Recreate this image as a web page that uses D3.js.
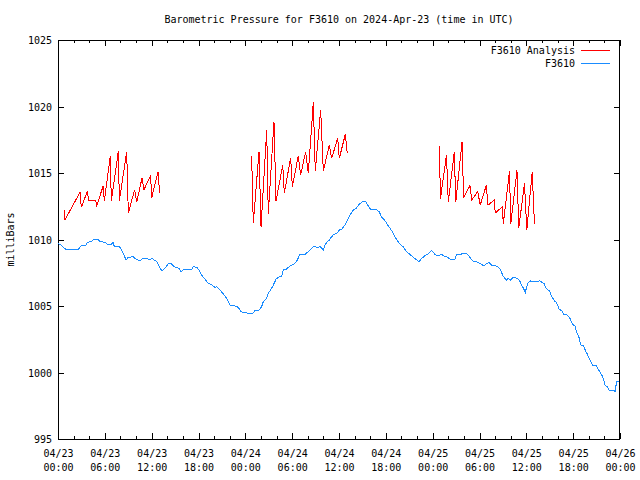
<!DOCTYPE html>
<html><head><meta charset="utf-8">
<script src="https://cdn.jsdelivr.net/npm/d3@7"></script>
<style>
html,body{margin:0;padding:0;background:#fff;}
svg text{font-family:"DejaVu Sans Mono",monospace;font-size:10px;fill:#000;}
</style></head>
<body>
<svg id="chart" width="640" height="480"></svg>
<script>
// ---- data (hours since 2024-04-23 00:00 UTC, pressure in mb) ----
const obsHours = [0,0.26,0.55,0.98,2.60,2.95,3.54,3.76,4.31,4.53,5.08,5.38,6.02,6.32,6.88,7.05,7.22,7.86,8.16,8.37,8.71,9.01,9.65,9.86,10.50,10.80,11.36,11.70,12.00,12.34,12.64,12.94,13.28,13.49,14.13,14.56,14.90,15.50,15.76,16.06,17.12,17.34,17.77,18.06,18.41,18.83,19.26,19.69,20.11,20.33,20.75,21.18,21.61,22.03,22.68,23.10,23.44,23.74,24.60,24.94,25.24,25.79,26.09,26.30,26.73,26.94,27.37,27.59,27.93,28.23,28.65,28.87,29.29,29.51,29.93,30.27,30.66,31.00,31.64,32.07,32.71,33.35,33.56,33.78,33.99,34.20,34.50,34.76,35.06,35.27,35.70,36.04,36.34,36.77,37.07,37.41,37.83,38.18,38.60,39.03,39.41,39.67,40.06,40.82,41.16,41.46,41.89,42.32,42.75,43.17,43.47,43.90,44.24,44.54,45.01,45.52,45.95,46.25,46.59,47.02,47.31,47.87,48.30,48.72,48.94,49.15,49.45,49.79,50.22,50.43,50.86,51.07,51.71,52.01,52.44,52.78,53.21,53.63,54.06,54.57,54.92,55.26,55.56,56.11,56.41,56.71,56.96,57.14,57.48,57.69,57.99,58.33,58.84,59.10,59.40,59.74,59.87,60.04,60.25,60.55,61.11,61.41,61.66,62.09,62.26,62.52,62.94,63.24,63.58,63.88,64.22,64.52,64.82,65.25,65.59,65.93,66.23,66.44,66.79,66.96,67.30,67.60,67.86,68.24,68.50,68.93,69.22,69.52,69.78,70.08,70.37,70.63,71.14,71.36,71.57,71.91];
const obsValues = [1009.70,1009.64,1009.51,1009.26,1009.26,1009.51,1009.56,1009.79,1009.84,1010.01,1010.01,1009.84,1009.79,1009.66,1009.66,1009.79,1009.46,1009.46,1009.21,1008.96,1008.46,1008.66,1008.71,1008.58,1008.38,1008.58,1008.58,1008.46,1008.58,1008.46,1008.33,1008.01,1007.66,1007.71,1008.16,1008.16,1007.96,1007.83,1007.58,1007.71,1007.76,1007.96,1007.91,1007.71,1007.33,1007.01,1006.70,1006.58,1006.40,1006.45,1006.20,1005.90,1005.58,1005.08,1005.00,1004.90,1004.57,1004.50,1004.45,1004.45,1004.65,1004.70,1004.95,1005.33,1005.58,1005.95,1006.33,1006.58,1007.01,1007.16,1007.26,1007.71,1007.78,1007.91,1008.08,1008.16,1008.46,1008.91,1008.88,1009.09,1009.46,1009.41,1009.51,1009.34,1009.21,1009.59,1009.84,1009.96,1010.21,1010.34,1010.46,1010.71,1010.76,1011.09,1011.47,1011.84,1012.22,1012.34,1012.67,1012.84,1012.84,1012.59,1012.27,1012.22,1012.09,1011.67,1011.42,1011.02,1010.66,1010.21,1009.91,1009.59,1009.46,1009.16,1008.91,1008.66,1008.46,1008.33,1008.58,1008.78,1008.88,1009.16,1008.88,1008.76,1008.83,1008.88,1008.76,1008.71,1008.53,1008.46,1008.51,1008.88,1008.91,1008.96,1008.91,1008.66,1008.33,1008.33,1008.21,1008.01,1008.21,1008.26,1008.08,1008.01,1007.91,1007.71,1007.33,1007.16,1006.95,1007.08,1006.95,1007.16,1007.08,1006.95,1006.58,1006.20,1006.00,1006.45,1006.78,1006.88,1006.83,1006.83,1006.90,1006.75,1006.70,1006.33,1006.15,1005.75,1005.40,1005.25,1004.75,1004.65,1004.37,1004.32,1004.07,1003.62,1003.50,1003.07,1002.57,1002.07,1002.02,1001.62,1001.32,1000.81,1000.56,1000.56,1000.24,999.94,999.69,999.06,998.93,998.63,998.68,998.56,999.31,999.31];

// analysis series: null marks a gap between runs
const anaHours = [0.77,0.90,2.82,2.99,3.76,3.93,4.83,4.96,5.77,5.94,6.70,6.83,7.73,7.86,8.80,9.01,9.82,10.08,10.76,11.02,11.87,12.00,12.81,13.02,
  null,
  24.81,25.02,25.75,26.01,26.74,26.94,27.67,27.93,28.79,28.99,29.81,30.02,30.78,31.09,31.73,32.07,32.71,32.96,33.65,33.99,34.76,35.06,35.83,36.04,36.81,37.06,
  null,
  48.85,49.00,49.77,50.00,50.77,50.96,51.76,51.97,52.78,53.00,53.78,54.09,54.86,55.09,55.88,56.02,56.91,57.05,57.84,58.01,58.80,59.03,59.76,60.06,60.75,61.04];
const anaValues = [1012.24,1011.49,1013.55,1012.42,1013.62,1012.92,1012.92,1012.54,1014.00,1012.92,1016.26,1012.92,1016.63,1012.92,1016.58,1011.99,1013.75,1012.80,1014.62,1013.75,1014.83,1013.12,1015.08,1013.50,
  null,
  1016.28,1011.22,1016.60,1010.96,1018.23,1011.89,1018.86,1012.89,1015.60,1013.47,1016.15,1013.97,1016.28,1014.85,1016.60,1014.98,1020.32,1015.15,1019.74,1015.15,1017.11,1016.11,1017.61,1016.11,1017.91,1016.48,
  null,
  1017.03,1013.08,1016.35,1012.82,1016.58,1012.82,1017.33,1013.12,1014.06,1012.97,1013.61,1012.58,1014.06,1012.59,1012.95,1011.99,1012.46,1011.20,1015.11,1011.17,1015.20,1010.86,1014.21,1010.70,1015.09,1011.17];

const xTickHours = [0,6,12,18,24,30,36,42,48,54,60,66,72];
const xTickDates = ["04/23","04/23","04/23","04/23","04/24","04/24","04/24","04/24","04/25","04/25","04/25","04/25","04/26"];
const xTickTimes = ["00:00","06:00","12:00","18:00","00:00","06:00","12:00","18:00","00:00","06:00","12:00","18:00","00:00"];
const xMinorHours = d3.range(0, 73, 2);
const yTicks = [995,1000,1005,1010,1015,1020,1025];

const titleText = "Barometric Pressure for F3610 on 2024-Apr-23 (time in UTC)";
const yLabel = "milliBars";
const seriesNames = ["F3610 Analysis", "F3610"];
const seriesColors = ["#ff0000", "#1a8cff"];

// ---- drawing ----
const svg = d3.select("#chart");
const L = 58, R = 620, T = 40, B = 439;
const x = d3.scaleLinear().domain([0, 72]).range([L, R]);
const y = d3.scaleLinear().domain([995, 1025]).range([B, T]);

// minor ticks (2 h) bottom & top
svg.append("g").attr("transform", `translate(0,${B})`)
  .call(d3.axisBottom(x).tickValues(xMinorHours).tickSizeInner(-3).tickSizeOuter(0).tickFormat(""))
  .call(g => g.select(".domain").remove());
svg.append("g").attr("transform", `translate(0,${T})`)
  .call(d3.axisTop(x).tickValues(xMinorHours).tickSizeInner(-3).tickSizeOuter(0).tickFormat(""))
  .call(g => g.select(".domain").remove());

// major x ticks bottom with two-line labels
const xb = svg.append("g").attr("transform", `translate(0,${B})`)
  .call(d3.axisBottom(x).tickValues(xTickHours).tickSizeInner(-6).tickSizeOuter(0).tickFormat(""));
xb.select(".domain").remove();
xb.selectAll(".tick").append("text")
  .attr("text-anchor", "middle").attr("y", 18).text((d, i) => xTickDates[i]);
xb.selectAll(".tick").append("text")
  .attr("text-anchor", "middle").attr("y", 32).text((d, i) => xTickTimes[i]);
svg.append("g").attr("transform", `translate(0,${T})`)
  .call(d3.axisTop(x).tickValues(xTickHours).tickSizeInner(-6).tickSizeOuter(0).tickFormat(""))
  .call(g => g.select(".domain").remove());

// y axes
const yl = svg.append("g").attr("transform", `translate(${L},0)`)
  .call(d3.axisLeft(y).tickValues(yTicks).tickSizeInner(-6).tickSizeOuter(0).tickPadding(6).tickFormat(d3.format("d")));
yl.select(".domain").remove();
yl.selectAll("text").attr("x", -6).attr("dy", "0.35em").style("font-family", "DejaVu Sans Mono").style("font-size", "10px");
svg.append("g").attr("transform", `translate(${R},0)`)
  .call(d3.axisRight(y).tickValues(yTicks).tickSizeInner(-6).tickSizeOuter(0).tickFormat(""))
  .call(g => g.select(".domain").remove());

svg.selectAll(".tick line").attr("stroke", "#000").attr("shape-rendering", "crispEdges");
svg.selectAll(".tick text").style("font-family", "DejaVu Sans Mono").style("font-size", "10px");
xb.selectAll("text").attr("dy", null);

// frame
svg.append("rect").attr("x", L + 0.5).attr("y", T + 0.5).attr("width", R - L - 1).attr("height", B - T)
  .attr("fill", "none").attr("stroke", "#000").attr("shape-rendering", "crispEdges");

// lines
const obs = obsHours.map((h, i) => [h, obsValues[i]]);
const ana = anaHours.map((h, i) => [h, anaValues[i]]);
const line = d3.line().defined(d => d[0] !== null && d[1] !== null).x(d => x(d[0])).y(d => y(d[1]));

svg.append("path").datum(obs).attr("d", line).attr("fill", "none")
  .attr("stroke", seriesColors[1]).attr("stroke-width", 1).attr("shape-rendering", "crispEdges");
svg.append("path").datum(ana).attr("d", line).attr("fill", "none")
  .attr("stroke", seriesColors[0]).attr("stroke-width", 1).attr("shape-rendering", "crispEdges");

// title
svg.append("text").attr("x", (L + R) / 2).attr("y", 23).attr("text-anchor", "middle").text(titleText);

// y label
svg.append("text").attr("transform", `translate(14,${(T + B) / 2}) rotate(-90)`)
  .attr("text-anchor", "middle").text(yLabel);

// legend
seriesNames.forEach((name, i) => {
  const ly = 50 + i * 13;
  svg.append("text").attr("x", 575).attr("y", ly).attr("dy", "0.35em").attr("text-anchor", "end").text(name);
  svg.append("line").attr("x1", 581).attr("x2", 610).attr("y1", ly + 0.5).attr("y2", ly + 0.5)
    .attr("stroke", seriesColors[i]).attr("shape-rendering", "crispEdges");
});
</script>
</body></html>
